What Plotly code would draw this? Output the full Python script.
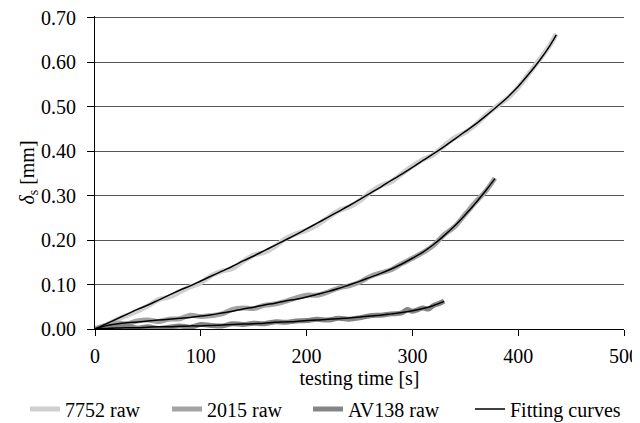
import plotly.graph_objects as go

# ---- data ----
t_7752 = [0,10,20,30,40,50,60,70,80,90,100,110,120,130,140,150,160,170,180,190,200,
          210,220,230,240,250,260,270,280,290,300,310,320,330,340,350,360,370,380,390,
          400,410,420,430,436]
raw_7752 = [0.000,0.008,0.020,0.030,0.040,0.052,0.066,0.072,0.083,0.095,0.104,0.120,0.130,
            0.136,0.152,0.166,0.172,0.185,0.203,0.214,0.222,0.234,0.250,0.266,0.274,0.288,
            0.307,0.322,0.331,0.349,0.366,0.381,0.392,0.412,0.430,0.442,0.460,0.482,0.501,
            0.519,0.543,0.574,0.605,0.638,0.663]
fit_7752 = [0.000,0.011,0.022,0.033,0.044,0.054,0.065,0.076,0.087,0.097,0.108,0.119,0.130,
            0.141,0.153,0.164,0.176,0.188,0.200,0.212,0.225,0.238,0.251,0.264,0.277,0.291,
            0.305,0.319,0.334,0.348,0.363,0.379,0.394,0.410,0.427,0.444,0.461,0.480,0.500,
            0.521,0.545,0.573,0.603,0.637,0.661]

t_2015 = [0,10,20,30,40,50,60,70,80,90,100,110,120,130,140,150,160,170,180,190,200,
          210,220,230,240,250,260,270,280,290,300,310,320,330,340,350,360,370,378]
raw_2015 = [0.000,0.008,0.013,0.012,0.018,0.020,0.017,0.022,0.023,0.031,0.028,0.030,0.034,
            0.044,0.047,0.046,0.053,0.056,0.062,0.070,0.076,0.076,0.083,0.092,0.097,0.105,
            0.118,0.126,0.133,0.147,0.159,0.172,0.188,0.212,0.230,0.258,0.286,0.312,0.339]
fit_2015 = [0.000,0.007,0.011,0.014,0.016,0.018,0.020,0.022,0.024,0.026,0.029,0.032,0.036,
            0.040,0.045,0.049,0.054,0.058,0.063,0.067,0.072,0.078,0.084,0.091,0.099,0.107,
            0.116,0.125,0.135,0.146,0.159,0.173,0.190,0.210,0.232,0.257,0.284,0.313,0.338]

t_av138_raw = [0,10,20,30,40,50,60,70,80,90,100,110,120,130,140,150,160,170,180,190,200,
               210,220,230,240,250,260,270,280,290,295,300,310,315,320,325,330]
raw_av138 = [0.000,0.002,0.005,0.006,0.002,0.005,0.001,0.004,0.007,0.004,0.010,0.008,0.007,
             0.012,0.010,0.013,0.012,0.016,0.015,0.018,0.019,0.022,0.020,0.024,0.022,0.025,
             0.030,0.031,0.034,0.036,0.044,0.040,0.047,0.045,0.053,0.057,0.063]
t_av138_fit = [0,10,20,30,40,50,60,70,80,90,100,110,120,130,140,150,160,170,180,190,200,
               210,220,230,240,250,260,270,280,290,300,310,320,330]
fit_av138 = [0.000,0.001,0.002,0.003,0.003,0.004,0.005,0.005,0.006,0.007,0.007,0.008,0.009,
             0.010,0.011,0.012,0.013,0.015,0.016,0.017,0.019,0.020,0.022,0.023,0.025,0.027,
             0.029,0.031,0.034,0.037,0.041,0.046,0.053,0.062]

x_ticks = [0, 100, 200, 300, 400, 500]
y_ticks = [0.0, 0.1, 0.2, 0.3, 0.4, 0.5, 0.6, 0.7]
y_tick_labels = ["0.00", "0.10", "0.20", "0.30", "0.40", "0.50", "0.60", "0.70"]

FONT = "'Liberation Serif', 'DejaVu Serif', serif"
FS = 20

fig = go.Figure()
fig.add_trace(go.Scatter(x=t_7752, y=raw_7752, mode="lines", name="7752 raw", legend="legend",
                         line=dict(color="#cfcfcf", width=5, shape="spline")))
fig.add_trace(go.Scatter(x=t_2015, y=raw_2015, mode="lines", name="2015 raw", legend="legend2",
                         line=dict(color="#a3a3a3", width=5, shape="spline")))
fig.add_trace(go.Scatter(x=t_av138_raw, y=raw_av138, mode="lines", name="AV138 raw",
                         legend="legend3",
                         line=dict(color="#858585", width=5, shape="spline")))
fig.add_trace(go.Scatter(x=t_7752, y=fit_7752, mode="lines", name="Fitting curves",
                         legend="legend4",
                         line=dict(color="#000000", width=1.5, shape="spline")))
fig.add_trace(go.Scatter(x=t_2015, y=fit_2015, mode="lines", showlegend=False,
                         line=dict(color="#000000", width=1.5, shape="spline")))
fig.add_trace(go.Scatter(x=t_av138_fit, y=fit_av138, mode="lines", showlegend=False,
                         line=dict(color="#000000", width=1.5, shape="spline")))

def leg(xpx):
    return dict(orientation="h", xref="container", yref="container",
                x=xpx / 640, xanchor="left", y=22 / 423, yanchor="middle",
                font=dict(family=FONT, size=FS, color="#000"), itemwidth=30,
                bgcolor="rgba(0,0,0,0)", borderwidth=0)

# the page adds an 8px body margin, so the figure is laid out 8px up/left
fig.update_layout(
    width=640, height=423,
    margin=dict(l=87, r=24, t=8, b=102, autoexpand=False),
    paper_bgcolor="white", plot_bgcolor="white",
    font=dict(family=FONT, size=FS, color="#000"),
    showlegend=True,
    legend=leg(17), legend2=leg(159), legend3=leg(300), legend4=leg(462),
)
fig.update_xaxes(range=[0, 500], tickvals=x_ticks, ticks="outside", ticklen=6,
                 tickcolor="#000", showline=True, linecolor="#000", linewidth=1,
                 showgrid=False, zeroline=False, automargin=False,
                 ticklabelstandoff=3, ticklabeloverflow="allow",
                 tickfont=dict(family=FONT, size=FS),
                 title=dict(text="testing time [s]", font=dict(family=FONT, size=FS), standoff=10))
fig.update_yaxes(range=[0, 0.7035], tickvals=y_ticks, ticktext=y_tick_labels, ticks="outside",
                 ticklen=7, tickcolor="#000", showline=True, linecolor="#000", linewidth=1,
                 showgrid=True, gridcolor="#555555", gridwidth=1, zeroline=False,
                 automargin=False, ticklabelstandoff=7, ticklabeloverflow="allow",
                 tickfont=dict(family=FONT, size=FS),
                 title=dict(text="<i>δ</i><sub>s</sub> [mm]", font=dict(family=FONT, size=FS),
                            standoff=1))

fig.write_html("out.html")
